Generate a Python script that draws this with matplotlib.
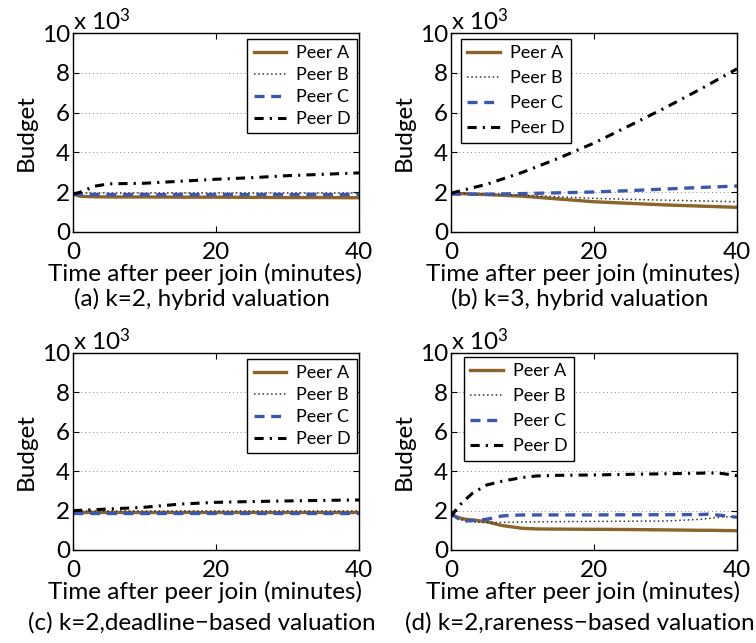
import matplotlib
matplotlib.use("Agg")
import matplotlib.pyplot as plt
import numpy as np

plt.rcParams['font.family'] = ['Lato', 'DejaVu Sans']
plt.rcParams['mathtext.fontset'] = 'custom'
plt.rcParams['mathtext.rm'] = 'Lato'
plt.rcParams['mathtext.it'] = 'Lato'

peers = ["Peer A", "Peer B", "Peer C", "Peer D"]
captions = ["(a) k=2, hybrid valuation", "(b) k=3, hybrid valuation",
            "(c) k=2,deadline\u2212based valuation", "(d) k=2,rareness\u2212based valuation"]

# panel (a)
a_t = [0, 1, 2, 3, 5, 10, 15, 20, 25, 30, 35, 40]
a_A = [1.9, 1.8, 1.78, 1.77, 1.76, 1.76, 1.75, 1.75, 1.74, 1.73, 1.73, 1.72]
a_B = [1.95, 1.95, 1.96, 1.96, 1.96, 1.96, 1.96, 1.96, 1.96, 1.96, 1.96, 1.96]
a_C = [1.9, 1.88, 1.88, 1.88, 1.88, 1.88, 1.88, 1.88, 1.88, 1.88, 1.88, 1.88]
a_D = [1.9, 2.0, 2.15, 2.3, 2.42, 2.45, 2.55, 2.65, 2.73, 2.83, 2.9, 2.97]

# panel (b)
b_t = [0, 5, 10, 15, 20, 25, 30, 35, 40]
b_A = [1.95, 1.88, 1.8, 1.66, 1.52, 1.44, 1.36, 1.3, 1.24]
b_B = [1.95, 1.9, 1.85, 1.77, 1.69, 1.64, 1.6, 1.56, 1.52]
b_C = [1.9, 1.9, 1.93, 1.97, 2.01, 2.08, 2.16, 2.24, 2.31]
b_D = [1.95, 2.4, 3.0, 3.7, 4.47, 5.35, 6.25, 7.2, 8.2]

# panel (c)
c_t = [0, 5, 10, 15, 20, 25, 30, 35, 40]
c_A = [1.92, 1.92, 1.92, 1.92, 1.92, 1.92, 1.92, 1.92, 1.92]
c_B = [1.97, 1.97, 1.97, 1.97, 1.97, 1.97, 1.97, 1.97, 1.97]
c_C = [1.9, 1.9, 1.9, 1.9, 1.9, 1.9, 1.9, 1.9, 1.9]
c_D = [2.0, 2.08, 2.17, 2.33, 2.42, 2.46, 2.49, 2.52, 2.54]

# panel (d)
d_t = [0, 1, 2, 3, 5, 7, 8, 10, 12, 15, 20, 25, 30, 35, 36, 38, 40]
d_A = [1.8, 1.65, 1.56, 1.52, 1.44, 1.25, 1.2, 1.1, 1.07, 1.06, 1.05, 1.04, 1.02, 1.0, 1.0, 0.99, 0.98]
d_B = [1.9, 1.6, 1.45, 1.42, 1.39, 1.4, 1.41, 1.42, 1.43, 1.44, 1.45, 1.46, 1.47, 1.56, 1.6, 1.68, 1.69]
d_C = [1.85, 1.6, 1.47, 1.5, 1.56, 1.72, 1.75, 1.78, 1.78, 1.78, 1.78, 1.79, 1.79, 1.8, 1.82, 1.75, 1.66]
d_D = [1.69, 2.2, 2.55, 2.88, 3.3, 3.48, 3.55, 3.68, 3.76, 3.79, 3.81, 3.84, 3.87, 3.9, 3.92, 3.88, 3.77]

panels = [
    (a_t, [a_A, a_B, a_C, a_D]),
    (b_t, [b_A, b_B, b_C, b_D]),
    (c_t, [c_A, c_B, c_C, c_D]),
    (d_t, [d_A, d_B, d_C, d_D]),
]

brown = '#8a6428'
blue = '#3a58b0'
styles = [
    dict(color=brown, lw=2.4, ls='-'),
    dict(color='#333333', lw=1.1, ls=(0, (1, 1.8))),
    dict(color=blue, lw=2.4, ls=(0, (3, 2))),
    dict(color='black', lw=2.2, ls=(0, (3, 2, 0.7, 2))),
]

fig = plt.figure(figsize=(7.56, 6.43), dpi=100)
W, H = 756, 643
boxes = [(73, 33, 359, 232), (451, 33, 737, 232), (73, 353, 359, 550), (451, 353, 737, 550)]
legend_locs = ['upper right', 'upper left', 'upper right', 'upper left']
legend_anchor = [(0.993, 0.97), (0.035, 0.97), (0.993, 0.97), (0.045, 0.98)]
legend_spacing = [0.33, 0.5, 0.33, 0.5]
xlabel_y = [-0.155, -0.155, -0.155, -0.155]
caption_y = [-0.334, -0.334, -0.37, -0.37]

FS = 17.5
for i, ((t, series), (x0, y0, x1, y1)) in enumerate(zip(panels, boxes)):
    ax = fig.add_axes([x0 / W, 1 - y1 / H, (x1 - x0) / W, (y1 - y0) / H])
    for name, vals, st in zip(peers, series, styles):
        ax.plot(t, vals, label=name, **st)
    ax.set_xlim(0, 40)
    ax.set_ylim(0, 10)
    ax.set_xticks([0, 20, 40])
    ax.set_yticks([0, 2, 4, 6, 8, 10])
    ax.yaxis.grid(True, ls=(0, (1, 3)), color='#888888', lw=0.7)
    ax.tick_params(direction='in', top=True, right=True, labelsize=FS, length=4, width=0.8)
    ax.tick_params(axis='x', pad=7)
    ax.tick_params(axis='y', pad=2)
    for s in ax.spines.values():
        s.set_linewidth(1.0)
    ax.set_xlabel("Time after peer join (minutes)", fontsize=FS)
    ax.xaxis.set_label_coords(0.462, xlabel_y[i])
    ax.xaxis.label.set_verticalalignment('top')
    ax.set_ylabel("Budget", fontsize=FS, labelpad=4)
    ax.text(0.0, 0.995, r"x 10$^3$", transform=ax.transAxes, fontsize=FS, ha='left', va='bottom')
    ax.text(0.45, caption_y[i], captions[i], transform=ax.transAxes, fontsize=FS,
            ha='center', va='center')
    leg = ax.legend(loc=legend_locs[i], bbox_to_anchor=legend_anchor[i], fontsize=13,
                    frameon=True, fancybox=False, edgecolor='black', framealpha=1,
                    handlelength=1.8, handletextpad=0.55, borderaxespad=0.0,
                    labelspacing=legend_spacing[i], borderpad=0.35)
    leg.get_frame().set_linewidth(1.0)

fig.savefig("out.png", dpi=100)
